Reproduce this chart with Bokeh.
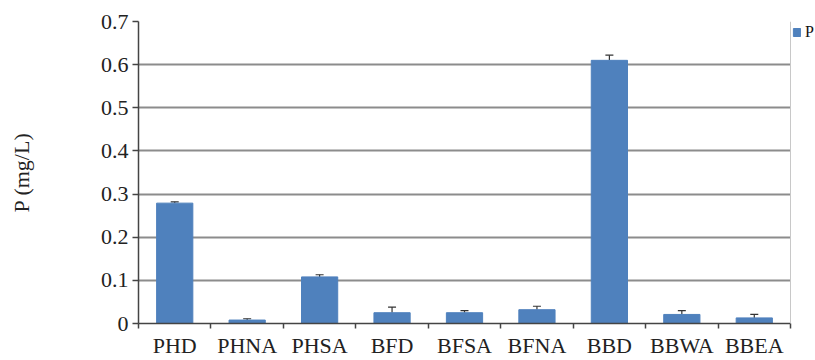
import numpy as np
from bokeh.plotting import figure
from bokeh.models import (ColumnDataSource, Range1d, FixedTicker, Whisker, TeeHead,
                          Legend, LegendItem, Span)
from bokeh.embed import file_html
from bokeh.resources import INLINE

# Phosphorus concentration per sampling site (mg/L) with error bars
sites = ["PHD", "PHNA", "PHSA", "BFD", "BFSA", "BFNA", "BBD", "BBWA", "BBEA"]
p_values = [0.279, 0.008, 0.108, 0.025, 0.025, 0.032, 0.610, 0.021, 0.013]
p_errors = [0.003, 0.003, 0.005, 0.013, 0.005, 0.008, 0.012, 0.009, 0.008]
y_ticks = [0, 0.1, 0.2, 0.3, 0.4, 0.5, 0.6, 0.7]

FONT = "Liberation Serif"
BAR = "#4f81bd"
AXIS = "#444444"

n = len(sites)
idx = np.arange(n)
src = ColumnDataSource(dict(
    x=idx,
    top=p_values,
    upper=[v + e for v, e in zip(p_values, p_errors)],
    base=p_values,
))

# plot area: 652 px for the categories plus a 25 px strip on the right for the key
cat_px = 652 / n
x_lo, x_hi = -0.5, n - 0.5
x_end = x_hi + 25 / cat_px

p = figure(width=815, height=360, output_backend="svg", toolbar_location=None,
           x_range=Range1d(x_lo, x_end), y_range=Range1d(0, 0.7),
           min_border_left=138, min_border_right=0, min_border_top=21,
           min_border_bottom=36)

p.background_fill_color = "white"
p.border_fill_color = "white"
p.outline_line_color = None

r = p.vbar(x="x", top="top", width=0.5, bottom=0, source=src,
           fill_color=BAR, line_color=BAR)

p.add_layout(Whisker(source=src, dimension="height", base="x", lower="base",
                     upper="upper", line_color="#333333", line_width=1.2,
                     upper_head=TeeHead(size=8, line_color="#333333", line_width=1.2),
                     lower_head=None))

# thin right-hand border of the category area
p.add_layout(Span(location=x_hi, dimension="height", line_color="#c8c8c8",
                  line_width=1))

# x axis: labels at category centres, ticks on category boundaries
p.xaxis.bounds = (x_lo, x_hi)
p.xaxis.ticker = FixedTicker(ticks=list(idx),
                             minor_ticks=list(np.arange(n + 1) - 0.5))
p.xaxis.major_label_overrides = {int(i): s for i, s in zip(idx, sites)}
p.xaxis.major_tick_line_color = None
p.xaxis.major_tick_out = 0
p.xaxis.major_tick_in = 0
p.xaxis.minor_tick_out = 5
p.xaxis.minor_tick_in = 0
p.xaxis.minor_tick_line_color = AXIS
p.xaxis.minor_tick_line_width = 1.5
p.xaxis.axis_line_color = AXIS
p.xaxis.axis_line_width = 1.5
p.xaxis.major_label_standoff = 4
p.xaxis.major_label_text_font = FONT
p.xaxis.major_label_text_font_size = "22px"
p.xaxis.major_label_text_color = "#222222"

# y axis
p.yaxis.ticker = FixedTicker(ticks=y_ticks)
p.yaxis.major_label_overrides = {0: "0"}
p.yaxis.minor_tick_line_color = None
p.yaxis.major_tick_out = 6
p.yaxis.major_tick_in = 0
p.yaxis.major_tick_line_color = AXIS
p.yaxis.major_tick_line_width = 1.5
p.yaxis.axis_line_color = AXIS
p.yaxis.axis_line_width = 1.5
p.yaxis.major_label_standoff = 4
p.yaxis.major_label_text_font = FONT
p.yaxis.major_label_text_font_size = "22px"
p.yaxis.major_label_text_color = "#222222"
p.yaxis.axis_label = "P (mg/L)"
p.yaxis.axis_label_text_font = FONT
p.yaxis.axis_label_text_font_size = "22px"
p.yaxis.axis_label_text_font_style = "normal"
p.yaxis.axis_label_text_color = "#222222"
p.yaxis.axis_label_standoff = 64

p.xgrid.grid_line_color = None
p.ygrid.grid_line_color = "#8c8c8c"
p.ygrid.grid_line_width = 2
p.ygrid.cross_bounds = (x_lo, x_hi)

legend = Legend(items=[LegendItem(label="P", renderers=[r])],
                location=(654, 282), orientation="vertical",
                border_line_color=None, background_fill_alpha=0,
                glyph_width=9, glyph_height=10, padding=0, margin=0,
                label_standoff=4, label_text_font=FONT,
                label_text_font_size="16px", label_text_color="#111111")
p.add_layout(legend)

open("out.html", "w").write(file_html(p, INLINE))
